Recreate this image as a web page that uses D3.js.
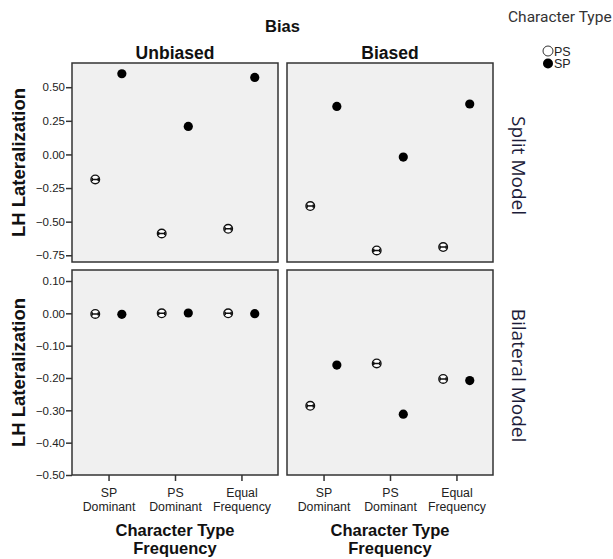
<!DOCTYPE html>
<html>
<head>
<meta charset="utf-8">
<script src="https://cdn.jsdelivr.net/npm/d3@7"></script>
<style>
  body { margin: 0; background: #fff; }
  svg { font-family: Arial, "Liberation Sans", Helvetica, sans-serif; }
</style>
</head>
<body>
<div id="chart"></div>
<script>
// categories and values
const categories = ['SP Dominant', 'PS Dominant', 'Equal Frequency'];
const categoryLines = [['SP', 'Dominant'], ['PS', 'Dominant'], ['Equal', 'Frequency']];
const biasLevels = ['Unbiased', 'Biased'];
const models = ['Split Model', 'Bilateral Model'];
const charTypes = ['PS', 'SP'];

const splitUnbiasedPS = [-0.186, -0.588, -0.553];
const splitUnbiasedSP = [0.600, 0.208, 0.573];
const splitBiasedPS = [-0.384, -0.714, -0.689];
const splitBiasedSP = [0.357, -0.020, 0.375];
const bilatUnbiasedPS = [-0.002, 0.000, 0.000];
const bilatUnbiasedSP = [-0.003, 0.001, -0.001];
const bilatBiasedPS = [-0.286, -0.155, -0.203];
const bilatBiasedSP = [-0.160, -0.312, -0.208];

const splitTicks = [0.50, 0.25, 0.00, -0.25, -0.50, -0.75];
const bilatTicks = [0.10, 0.00, -0.10, -0.20, -0.30, -0.40, -0.50];
const splitDomain = [-0.80, 0.68];
const bilatDomain = [-0.50, 0.134];

const width = 613, height = 559;
const svg = d3.select('#chart').append('svg')
    .attr('width', width)
    .attr('height', height);

// panel layout
const colX = [72, 287];
const pw = 206;
const rows = [
    {y: 63, h: 199, domain: splitDomain, ticks: splitTicks,
     series: [[splitUnbiasedPS, splitUnbiasedSP], [splitBiasedPS, splitBiasedSP]]},
    {y: 270, h: 205, domain: bilatDomain, ticks: bilatTicks,
     series: [[bilatUnbiasedPS, bilatUnbiasedSP], [bilatBiasedPS, bilatBiasedSP]]}
];

const x = d3.scalePoint().domain(categories).range([0, pw]).padding(0.55);
const offset = x.step() * 0.2;
const dodge = {PS: -offset, SP: offset};

rows.forEach((row, ri) => {
    const y = d3.scaleLinear().domain(row.domain).range([row.h, 0]);

    // y axis
    const ya = svg.append('g')
        .attr('transform', `translate(${colX[0]},${row.y})`)
        .call(d3.axisLeft(y).tickValues(row.ticks).tickFormat(d3.format('.2f')).tickSize(6).tickPadding(1));
    ya.select('.domain').remove();
    ya.selectAll('.tick line').attr('stroke', '#333').attr('stroke-width', 1.5);
    ya.selectAll('.tick text').attr('fill', '#222').style('font-size', '11.5px')
        .style('font-family', 'Arial, "Liberation Sans", sans-serif');

    row.series.forEach((pair, ci) => {
        const g = svg.append('g').attr('transform', `translate(${colX[ci]},${row.y})`);

        g.append('rect')
            .attr('width', pw).attr('height', row.h)
            .attr('fill', '#f0f0f0')
            .attr('stroke', '#333').attr('stroke-width', 1.5);

        // PS: hollow circles with tiny error bars
        const ps = g.selectAll('.ps').data(pair[0]).enter().append('g')
            .attr('class', 'ps')
            .attr('transform', (d, i) => `translate(${x(categories[i]) + dodge.PS},${y(d)})`);
        ps.append('circle').attr('r', 4.3).attr('fill', '#fff').attr('stroke', '#111').attr('stroke-width', 1.4);
        ps.append('path').attr('d', 'M-3,0H3M-3,-1.6V1.6M3,-1.6V1.6')
            .attr('stroke', '#111').attr('stroke-width', 1.5).attr('fill', 'none');

        // SP: filled circles
        g.selectAll('.sp').data(pair[1]).enter().append('circle')
            .attr('class', 'sp')
            .attr('cx', (d, i) => x(categories[i]) + dodge.SP)
            .attr('cy', d => y(d))
            .attr('r', 4.6)
            .attr('fill', '#000');

        // x axis ticks on bottom row
        if (ri === 1) {
            const xa = g.append('g')
                .attr('transform', `translate(0,${row.h})`)
                .call(d3.axisBottom(x).tickSize(6).tickFormat(''));
            xa.select('.domain').remove();
            xa.selectAll('.tick line').attr('stroke', '#333').attr('stroke-width', 1.5);
            const lab = xa.selectAll('.tick').append('text')
                .attr('fill', '#222')
                .attr('text-anchor', 'middle')
                .style('font-family', 'Arial, "Liberation Sans", sans-serif')
                .style('font-size', '12.3px');
            lab.each(function(d, i) {
                const t = d3.select(this);
                categoryLines[i].forEach((ln, k) => {
                    t.append('tspan').attr('x', 0).attr('y', 22 + k * 13.5).text(ln);
                });
            });

            ['Character Type', 'Frequency'].forEach((ln, k) => {
                g.append('text')
                    .attr('x', pw / 2).attr('y', 536 - row.y + k * 17.5)
                    .attr('text-anchor', 'middle')
                    .style('font-size', '16.5px').style('font-weight', 'bold')
                    .attr('fill', '#111')
                    .text(ln);
            });
        }
    });

    // left title
    svg.append('text')
        .attr('transform', `translate(25,${row.y + row.h / 2}) rotate(-90)`)
        .attr('text-anchor', 'middle')
        .style('font-size', '18.5px').style('font-weight', 'bold')
        .attr('fill', '#111')
        .text('LH Lateralization');

    // right row label
    svg.append('text')
        .attr('transform', `translate(512,${row.y + row.h / 2 + 3}) rotate(90)`)
        .attr('text-anchor', 'middle')
        .style('font-family', '"Open Sans", sans-serif')
        .style('font-size', '19px')
        .attr('fill', '#1c1c3a')
        .text(models[ri]);
});

// column titles
svg.append('text')
    .attr('x', colX[0] + pw + (colX[1] - colX[0] - pw) / 2).attr('y', 32)
    .attr('text-anchor', 'middle')
    .style('font-size', '16.5px').style('font-weight', 'bold')
    .attr('fill', '#111')
    .text('Bias');

biasLevels.forEach((b, ci) => {
    svg.append('text')
        .attr('x', colX[ci] + pw / 2).attr('y', 59)
        .attr('text-anchor', 'middle')
        .style('font-size', '17.5px').style('font-weight', 'bold')
        .attr('fill', '#111')
        .text(b);
});

// legend
svg.append('text')
    .attr('x', 508).attr('y', 22)
    .style('font-family', 'Roboto, sans-serif')
    .style('font-size', '15.5px')
    .attr('fill', '#333')
    .text('Character Type');

const leg = svg.append('g').attr('transform', 'translate(548,51)');
charTypes.forEach((c, i) => {
    const item = leg.append('g').attr('transform', `translate(0,${i * 12.5})`);
    item.append('circle').attr('r', 5)
        .attr('fill', c === 'SP' ? '#000' : '#fff')
        .attr('stroke', c === 'SP' ? 'none' : '#333').attr('stroke-width', 1);
    item.append('text').attr('x', 6).attr('y', 4.5)
        .style('font-size', '12.5px').attr('fill', '#222')
        .text(c);
});
</script>
</body>
</html>
